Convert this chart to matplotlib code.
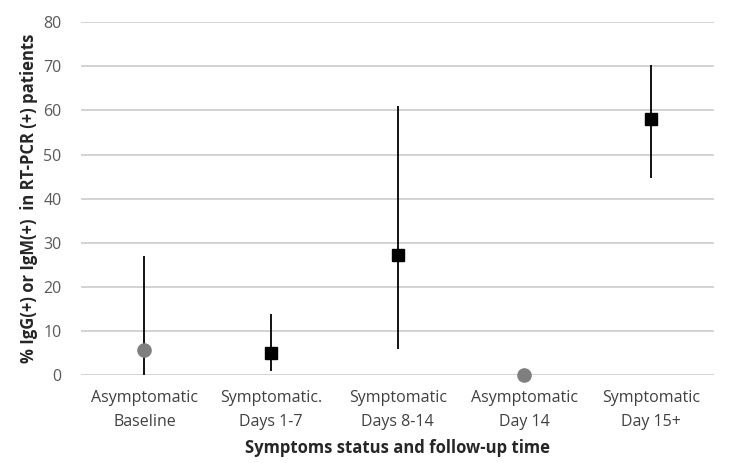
import numpy as np
import matplotlib.pyplot as plt

plt.rcParams['font.family'] = ['Open Sans', 'DejaVu Sans']

categories = ["Asymptomatic\nBaseline", "Symptomatic.\nDays 1-7", "Symptomatic\nDays 8-14",
              "Asymptomatic\nDay 14", "Symptomatic\nDay 15+"]
values = [5.6, 5.0, 27.3, 0.0, 58.0]
lower = [0.0, 0.9, 6.0, 0.0, 44.7]
upper = [27.1, 13.8, 61.0, 0.0, 70.2]
symptomatic = [False, True, True, False, True]

fig = plt.figure(figsize=(7.31, 4.63), dpi=100)
ax = fig.add_axes([0.111, 0.19, 0.866, 0.762])

x = np.arange(len(categories))
for i in range(len(categories)):
    if upper[i] > lower[i]:
        ax.vlines(x[i], lower[i], upper[i], color="black", lw=1.3, zorder=3)
    if symptomatic[i]:
        ax.plot(x[i], values[i], "s", color="black", ms=9, zorder=4)
    else:
        ax.plot(x[i], values[i], "o", color="#7f7f7f", ms=9.5, zorder=4, clip_on=False)

ax.set_xlim(-0.5, len(categories) - 0.5)
ax.set_ylim(0, 80)
ax.set_yticks(range(0, 81, 10))
ax.set_xticks(x)
ax.set_xticklabels(categories, fontsize=11.5, color="#404040", linespacing=1.6)
ax.tick_params(axis="y", labelsize=11.5, labelcolor="#595959", length=0, pad=14)
ax.tick_params(axis="x", length=0, pad=11)
ax.grid(axis="y", color="#d0d0d0", lw=1.3)
ax.set_axisbelow(True)
for s in ax.spines.values():
    s.set_visible(False)

ax.set_xlabel("Symptoms status and follow-up time", fontsize=12, fontweight="bold",
              color="#262626", labelpad=7)
ax.set_ylabel("% IgG(+) or IgM(+)  in RT-PCR (+) patients", fontsize=12, fontweight="bold",
              color="#262626", labelpad=4)

fig.savefig("out.png", dpi=100)
